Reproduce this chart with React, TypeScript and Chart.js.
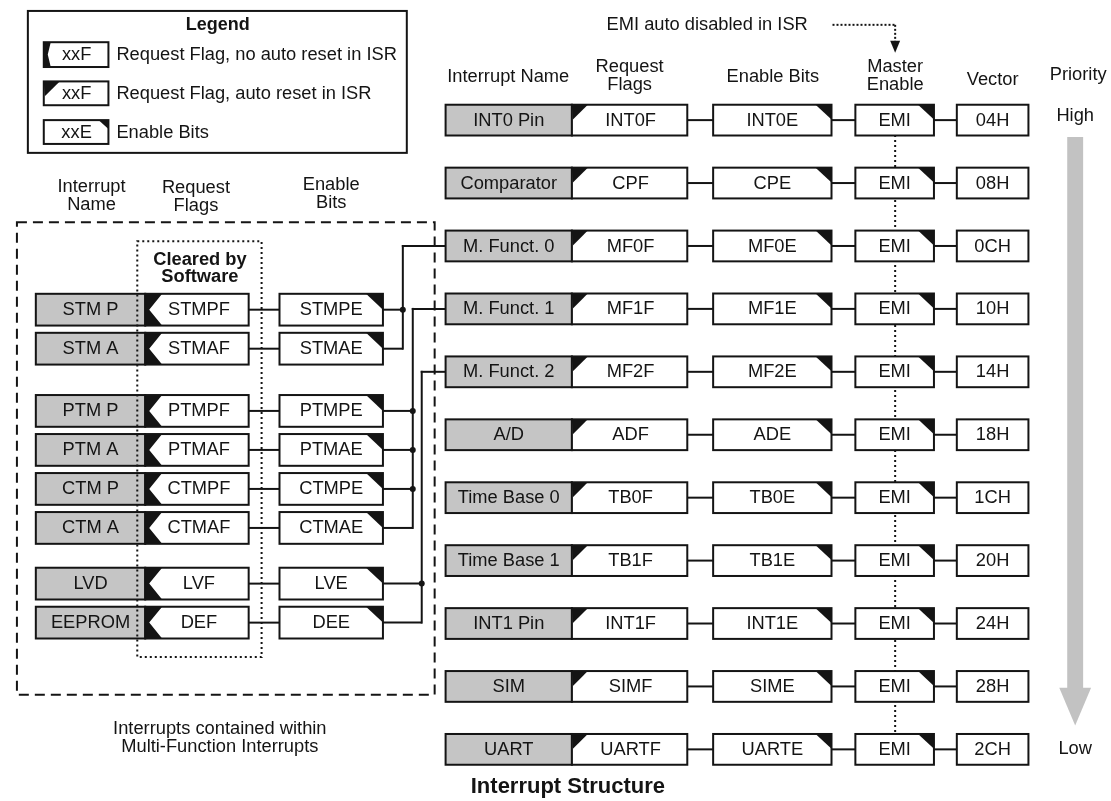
import React, { useEffect, useRef } from "react";
import { Chart, registerables } from "chart.js";

Chart.register(...registerables);

// ---------------- data ----------------
const mainNames = ["INT0 Pin", "Comparator", "M. Funct. 0", "M. Funct. 1", "M. Funct. 2", "A/D", "Time Base 0", "Time Base 1", "INT1 Pin", "SIM", "UART"];
const mainFlags = ["INT0F", "CPF", "MF0F", "MF1F", "MF2F", "ADF", "TB0F", "TB1F", "INT1F", "SIMF", "UARTF"];
const mainEnables = ["INT0E", "CPE", "MF0E", "MF1E", "MF2E", "ADE", "TB0E", "TB1E", "INT1E", "SIME", "UARTE"];
const masterLabel = "EMI";
const vectorLabels = ["04H", "08H", "0CH", "10H", "14H", "18H", "1CH", "20H", "24H", "28H", "2CH"];

const mfNames = ["STM P", "STM A", "PTM P", "PTM A", "CTM P", "CTM A", "LVD", "EEPROM"];
const mfFlags = ["STMPF", "STMAF", "PTMPF", "PTMAF", "CTMPF", "CTMAF", "LVF", "DEF"];
const mfEnables = ["STMPE", "STMAE", "PTMPE", "PTMAE", "CTMPE", "CTMAE", "LVE", "DEE"];
const mfTargets = ["M. Funct. 0", "M. Funct. 0", "M. Funct. 1", "M. Funct. 1", "M. Funct. 1", "M. Funct. 1", "M. Funct. 2", "M. Funct. 2"];

const rightHeaders = ["Interrupt Name", "Request\nFlags", "Enable Bits", "Master\nEnable", "Vector"];
const leftHeaders = ["Interrupt\nName", "Request\nFlags", "Enable\nBits"];
const legendTags = ["xxF", "xxF", "xxE"];
const legendTexts = ["Request Flag, no auto reset in ISR", "Request Flag, auto reset in ISR", "Enable Bits"];
const priorityLabels = ["Priority", "High", "Low"];
const titleText = "Interrupt Structure";
const legendTitle = "Legend";
const clearedText = "Cleared by\nSoftware";
const groupCaption = "Interrupts contained within\nMulti-Function Interrupts";
const emiNote = "EMI auto disabled in ISR";

// ---------------- layout ----------------
const FONT = '"Liberation Sans", Arial, Helvetica, sans-serif';
const FS = 18.3;
const ROW0 = 118;
const ROW_STEP = 63.4;
const ROW_H = 31;
const COL = { name: [445, 572], flag: [572, 688], en: [714, 833], emi: [857, 936], vec: [959, 1031] };
const SUB_COL = { name: [33, 143], flag: [143, 247], en: [278, 382] };
const SUB_GROUP_Y = [309, 411, 585];
const SUB_STEP = 39.3;
const SUB_H = 32;
const BUS_X = [402, 412, 421];
const INK = "#141414";
const GRAY = "#c5c5c5";

const rowY = (i: number) => ROW0 + ROW_STEP * i;

function subLayout() {
  const groups: string[] = [];
  const counts: Record<string, number> = {};
  return mfTargets.map((t) => {
    if (!groups.includes(t)) groups.push(t);
    const g = groups.indexOf(t);
    const k = counts[t] || 0;
    counts[t] = k + 1;
    return { g, y: SUB_GROUP_Y[g] + SUB_STEP * k, target: mainNames.indexOf(t) };
  });
}

function junctionPoints() {
  const sub = subLayout();
  const pts: { x: number; y: number }[] = [];
  const byGroup: Record<number, number[]> = {};
  sub.forEach((s) => {
    (byGroup[s.g] = byGroup[s.g] || []).push(s.y);
  });
  Object.keys(byGroup).forEach((gk) => {
    const g = Number(gk);
    const ys = byGroup[g];
    const ty = rowY(sub.find((s) => s.g === g)!.target);
    ys.forEach((y) => {
      const top = Math.min(ty, ys[0]);
      const bottom = Math.max(...ys);
      if (y > top + 1 && y < bottom - 1) pts.push({ x: BUS_X[g], y });
    });
  });
  return pts;
}

const diagramPlugin = {
  id: "diagram",
  beforeDatasetsDraw(chart: any) {
    const ctx: CanvasRenderingContext2D = chart.ctx;
    const xs = chart.scales.x;
    const ys = chart.scales.y;
    const X = (v: number) => xs.getPixelForValue(v);
    const Y = (v: number) => ys.getPixelForValue(v);

    const line = (x1: number, y1: number, x2: number, y2: number, w = 2, dash: number[] = []) => {
      ctx.save();
      ctx.strokeStyle = INK;
      ctx.lineWidth = w;
      ctx.setLineDash(dash);
      ctx.beginPath();
      ctx.moveTo(X(x1), Y(y1));
      ctx.lineTo(X(x2), Y(y2));
      ctx.stroke();
      ctx.restore();
    };
    const poly = (pts: number[][], fill: string) => {
      ctx.save();
      ctx.fillStyle = fill;
      ctx.beginPath();
      pts.forEach((p, i) => (i ? ctx.lineTo(X(p[0]), Y(p[1])) : ctx.moveTo(X(p[0]), Y(p[1]))));
      ctx.closePath();
      ctx.fill();
      ctx.restore();
    };
    const rect = (x1: number, y1: number, x2: number, y2: number, fill: string | null, w = 2, dash: number[] = []) => {
      ctx.save();
      if (fill) {
        ctx.fillStyle = fill;
        ctx.fillRect(X(x1), Y(y1), X(x2) - X(x1), Y(y2) - Y(y1));
      }
      if (w > 0) {
        ctx.strokeStyle = INK;
        ctx.lineWidth = w;
        ctx.setLineDash(dash);
        ctx.strokeRect(X(x1), Y(y1), X(x2) - X(x1), Y(y2) - Y(y1));
      }
      ctx.restore();
    };
    const text = (s: string, x: number, y: number, opts: { bold?: boolean; size?: number; align?: CanvasTextAlign; lh?: number } = {}) => {
      const size = opts.size || FS;
      const lh = opts.lh || size * 1.0;
      ctx.save();
      ctx.fillStyle = INK;
      ctx.font = `${opts.bold ? "bold " : ""}${size}px ${FONT}`;
      ctx.textAlign = opts.align || "center";
      ctx.textBaseline = "middle";
      const lines = s.split("\n");
      const y0 = y - ((lines.length - 1) * lh) / 2;
      lines.forEach((l, i) => ctx.fillText(l, X(x), Y(y0 + i * lh + 0.5)));
      ctx.restore();
    };
    // box shapes
    const flagAutoBox = (x1: number, x2: number, yc: number, h: number) => {
      const t = yc - h / 2, b = yc + h / 2;
      rect(x1, t, x2, b, "#ffffff");
      poly([[x1, t], [x1 + 16, t], [x1 + 1, t + 15]], INK);
    };
    const flagNoAutoBox = (x1: number, x2: number, yc: number, h: number, d = 17) => {
      const t = yc - h / 2, b = yc + h / 2;
      rect(x1, t, x2, b, "#ffffff");
      poly([[x1, t], [x1 + d, t], [x1 + 4, yc], [x1 + d, b], [x1, b]], INK);
    };
    const enableBox = (x1: number, x2: number, yc: number, h: number, d = 16) => {
      const t = yc - h / 2, b = yc + h / 2;
      rect(x1, t, x2, b, "#ffffff");
      poly([[x2 - d, t], [x2, t], [x2, t + d - 1]], INK);
    };

    // ---------- legend ----------
    rect(25, 8, 406, 151, "#ffffff");
    text(legendTitle, 216, 22, { bold: true, size: 18 });
    const legY = [52, 91, 130];
    flagNoAutoBox(41, 106, legY[0], 25, 7);
    flagAutoBox(41, 106, legY[1], 24);
    enableBox(41, 106, legY[2], 24, 10);
    legendTags.forEach((tg, i) => text(tg, 74, legY[i]));
    legendTexts.forEach((tx, i) => text(tx, 114, legY[i], { align: "left" }));

    // ---------- EMI note ----------
    text(emiNote, 708, 22);
    line(834, 22, 897, 22, 2, [2, 2]);
    line(897, 22, 897, 39, 2, [2, 2]);
    poly([[892, 38], [902, 38], [897, 50]], INK);

    // ---------- right headers ----------
    const hx = [508, 630, 774, 897, 995];
    const hy = [74, 73, 74, 73, 77];
    rightHeaders.forEach((h, i) => text(h, hx[i], hy[i], { lh: 18.5 }));
    text(priorityLabels[0], 1081, 72);
    text(priorityLabels[1], 1078, 113);
    text(priorityLabels[2], 1078, 751);

    // priority arrow
    ctx.save();
    ctx.fillStyle = "#c2c2c2";
    ctx.fillRect(X(1070), Y(135), X(1086) - X(1070), Y(691) - Y(135));
    ctx.restore();
    poly([[1062, 690], [1094, 690], [1078, 728]], "#c2c2c2");

    // EMI dotted column
    line(897, rowY(0), 897, rowY(mainNames.length - 1), 2, [2, 3]);

    // ---------- left group frames ----------
    rect(14, 221, 434, 697, null, 2, [10, 6]);
    const lhx = [89, 194, 330];
    const lhy = [194, 195, 192];
    leftHeaders.forEach((h, i) => text(h, lhx[i], lhy[i], { lh: 17.5 }));
    text(clearedText, 198, 267, { bold: true, lh: 17.5 });
    text(groupCaption, 218, 740, { lh: 17.5 });

    // ---------- connections (sub) ----------
    const sub = subLayout();
    const groupYs: Record<number, number[]> = {};
    sub.forEach((s) => (groupYs[s.g] = groupYs[s.g] || []).push(s.y));
    sub.forEach((s) => {
      line(SUB_COL.flag[1], s.y, SUB_COL.en[0], s.y);
      line(SUB_COL.en[1], s.y, BUS_X[s.g], s.y);
    });
    Object.keys(groupYs).forEach((gk) => {
      const g = Number(gk);
      const ysArr = groupYs[g];
      const ty = rowY(sub.find((s) => s.g === g)!.target);
      line(BUS_X[g], Math.min(ty, ysArr[0]) - 1, BUS_X[g], Math.max(...ysArr) + 1);
      line(BUS_X[g] - 1, ty, COL.name[0], ty);
    });

    // ---------- main rows ----------
    mainNames.forEach((n, i) => {
      const y = rowY(i);
      line(COL.flag[1], y, COL.en[0], y);
      line(COL.en[1], y, COL.emi[0], y);
      line(COL.emi[1], y, COL.vec[0], y);
      rect(COL.name[0], y - ROW_H / 2, COL.name[1], y + ROW_H / 2, GRAY);
      flagAutoBox(COL.flag[0], COL.flag[1], y, ROW_H);
      enableBox(COL.en[0], COL.en[1], y, ROW_H);
      enableBox(COL.emi[0], COL.emi[1], y, ROW_H);
      rect(COL.vec[0], y - ROW_H / 2, COL.vec[1], y + ROW_H / 2, "#ffffff");
      text(n, (COL.name[0] + COL.name[1]) / 2, y);
      text(mainFlags[i], (COL.flag[0] + COL.flag[1]) / 2 + 1, y);
      text(mainEnables[i], (COL.en[0] + COL.en[1]) / 2, y);
      text(masterLabel, (COL.emi[0] + COL.emi[1]) / 2, y);
      text(vectorLabels[i], (COL.vec[0] + COL.vec[1]) / 2, y);
    });

    // ---------- sub rows ----------
    sub.forEach((s, i) => {
      const y = s.y;
      rect(SUB_COL.name[0], y - SUB_H / 2, SUB_COL.name[1], y + SUB_H / 2, GRAY);
      flagNoAutoBox(SUB_COL.flag[0], SUB_COL.flag[1], y, SUB_H);
      enableBox(SUB_COL.en[0], SUB_COL.en[1], y, SUB_H, 17);
      text(mfNames[i], (SUB_COL.name[0] + SUB_COL.name[1]) / 2, y);
      text(mfFlags[i], (SUB_COL.flag[0] + SUB_COL.flag[1]) / 2 + 2, y);
      text(mfEnables[i], (SUB_COL.en[0] + SUB_COL.en[1]) / 2, y);
    });

    // dotted "cleared by software" frame on top
    rect(135, 240, 260, 659, null, 2, [2, 3]);

    // title
    text(titleText, 568, 789, { bold: true, size: 22 });
  },
};

export default function App() {
  const ref = useRef<HTMLCanvasElement | null>(null);
  useEffect(() => {
    if (!ref.current) return;
    const chart = new Chart(ref.current, {
      type: "scatter",
      data: {
        datasets: [
          {
            data: junctionPoints(),
            pointRadius: 3,
            pointHoverRadius: 3,
            pointBackgroundColor: INK,
            pointBorderWidth: 0,
            showLine: false,
          },
        ],
      },
      options: {
        animation: false,
        responsive: true,
        maintainAspectRatio: false,
        layout: { padding: 0 },
        events: [],
        plugins: { legend: { display: false }, tooltip: { enabled: false } },
        scales: {
          x: { type: "linear", min: 0, max: 1111, display: false },
          y: { type: "linear", min: 0, max: 801, reverse: true, display: false },
        },
      },
      plugins: [diagramPlugin],
    });
    return () => chart.destroy();
  }, []);
  return (
    <div style={{ position: "fixed", left: 0, top: 0, width: 1111, height: 801, background: "#ffffff" }}>
      <canvas ref={ref} />
    </div>
  );
}
